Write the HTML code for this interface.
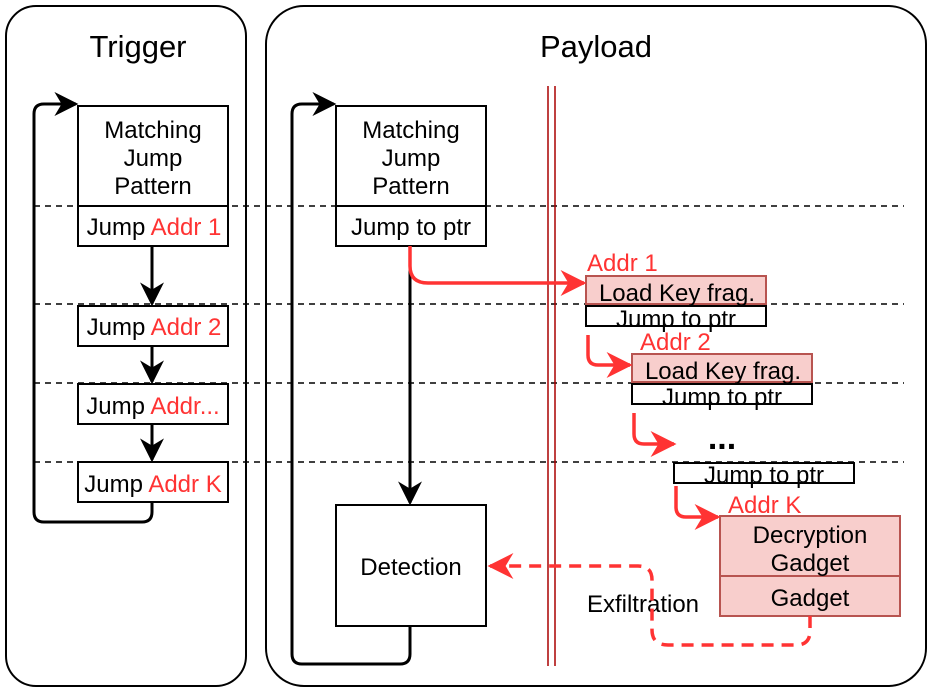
<!DOCTYPE html>
<html><head><style>body{margin:0;background:#fff}svg{display:block}text{font-family:"Liberation Sans",Arial,sans-serif}</style></head><body>
<svg width="932" height="692" viewBox="0 0 932 692" xmlns="http://www.w3.org/2000/svg">
<defs>
<marker id="ar" viewBox="0 0 10 10" refX="9" refY="5" markerWidth="26" markerHeight="26" orient="auto" markerUnits="userSpaceOnUse"><path d="M0,0 L10,5 L0,10 L3,5 Z" fill="#ff3333"/></marker>
<marker id="ak" viewBox="0 0 10 10" refX="9" refY="5" markerWidth="24" markerHeight="24" orient="auto" markerUnits="userSpaceOnUse"><path d="M0,0 L10,5 L0,10 L3,5 Z" fill="#000"/></marker>
</defs>
<rect x="6" y="6" width="240" height="680" rx="30" fill="none" stroke="#000" stroke-width="2"/>
<rect x="266" y="6" width="660" height="680" rx="38" fill="none" stroke="#000" stroke-width="2"/>
<text x="138" y="57" font-size="31" text-anchor="middle">Trigger</text>
<text x="596" y="57" font-size="31" text-anchor="middle">Payload</text>
<g stroke="#000" stroke-width="1.5" stroke-dasharray="6,5">
<line x1="34" y1="206" x2="904" y2="206"/><line x1="34" y1="304" x2="904" y2="304"/>
<line x1="34" y1="383" x2="904" y2="383"/><line x1="34" y1="462" x2="904" y2="462"/>
</g>
<line x1="548" y1="86" x2="548" y2="666" stroke="#a00" stroke-width="1.5"/>
<line x1="555" y1="86" x2="555" y2="666" stroke="#a00" stroke-width="1.5"/>
<g fill="#fff" stroke="#000" stroke-width="2">
<rect x="78" y="106" width="150" height="100"/><rect x="78" y="206" width="150" height="40"/>
<rect x="78" y="306" width="150" height="40"/><rect x="78" y="384" width="150" height="40"/>
<rect x="78" y="462" width="150" height="40"/>
<rect x="336" y="106" width="150" height="100"/><rect x="336" y="206" width="150" height="40"/>
<rect x="336" y="505" width="150" height="121"/>
</g>
<g font-size="24" text-anchor="middle">
<text x="153" y="138">Matching</text><text x="153" y="166">Jump</text><text x="153" y="194">Pattern</text>
<text x="154" y="235">Jump <tspan fill="#ff3333">Addr 1</tspan></text>
<text x="154" y="335">Jump <tspan fill="#ff3333">Addr 2</tspan></text>
<text x="153" y="414">Jump <tspan fill="#ff3333">Addr...</tspan></text>
<text x="153" y="492">Jump <tspan fill="#ff3333">Addr K</tspan></text>
<text x="411" y="138">Matching</text><text x="411" y="166">Jump</text><text x="411" y="194">Pattern</text>
<text x="411" y="235">Jump to ptr</text>
<text x="411" y="575">Detection</text>
</g>
<g stroke="#000" stroke-width="3" fill="none">
<line x1="152" y1="246" x2="152" y2="304" marker-end="url(#ak)"/>
<line x1="152" y1="346" x2="152" y2="382" marker-end="url(#ak)"/>
<line x1="152" y1="424" x2="152" y2="460" marker-end="url(#ak)"/>
<path d="M152,502 V512 Q152,522 142,522 H44 Q34,522 34,512 V114 Q34,104 44,104 H76" marker-end="url(#ak)"/>
<line x1="410" y1="246" x2="410" y2="503" marker-end="url(#ak)"/>
<path d="M410,626 V654 Q410,664 400,664 H302 Q292,664 292,654 V114 Q292,104 302,104 H334" marker-end="url(#ak)"/>
</g>
<g fill="#f8cecc" stroke="#b85450" stroke-width="2">
<rect x="586" y="276" width="180" height="28"/><rect x="632" y="354" width="180" height="28"/>
<rect x="720" y="516" width="180" height="60"/><rect x="720" y="576" width="180" height="40"/>
</g>
<g fill="#fff" stroke="#000" stroke-width="2">
<rect x="586" y="306" width="180" height="20"/><rect x="632" y="384" width="180" height="20"/>
<rect x="674" y="463" width="180" height="20"/>
</g>
<g font-size="24" text-anchor="middle">
<text x="677" y="301">Load Key frag.</text><text x="676" y="327">Jump to ptr</text>
<text x="723" y="379">Load Key frag.</text><text x="722" y="405">Jump to ptr</text>
<text x="764" y="483">Jump to ptr</text>
<text x="810" y="543">Decryption</text><text x="810" y="571">Gadget</text>
<text x="810" y="606">Gadget</text>
<text x="643" y="612">Exfiltration</text>
<text x="722" y="449" font-size="34" font-weight="bold">...</text>
</g>
<g fill="#ff3333" font-size="24">
<text x="587" y="271">Addr 1</text><text x="640" y="350">Addr 2</text><text x="728" y="513">Addr K</text>
</g>
<g stroke="#ff3333" stroke-width="3.5" fill="none">
<path d="M410,246 V266 Q410,283 428,283 H584" marker-end="url(#ar)"/>
<path d="M588,335 V355 Q588,365 598,365 H630" marker-end="url(#ar)"/>
<path d="M634,413 V434 Q634,444 644,444 H674" marker-end="url(#ar)"/>
<path d="M676,486 V507 Q676,517 686,517 H718" marker-end="url(#ar)"/>
<path d="M810,616 V631 Q810,645 796,645 H668 Q652,645 652,630 V580 Q652,566 638,566 H490" stroke-dasharray="12,8" marker-end="url(#ar)"/>
</g>
</svg>
</body></html>
